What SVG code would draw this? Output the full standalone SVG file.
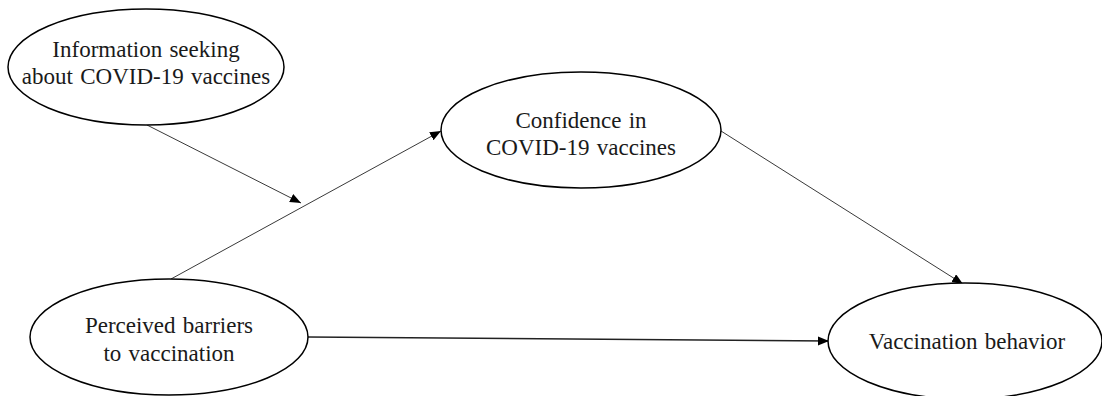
<svg xmlns="http://www.w3.org/2000/svg" width="1102" height="396" viewBox="0 0 1102 396">
<style>
.node{fill:#fff;stroke:#000;stroke-width:1.5}
.lbl{font-family:"Liberation Serif","Times New Roman",serif;font-size:23px;fill:#1a1a1a;text-anchor:middle;word-spacing:1.5px}
.edge{stroke:#222;stroke-width:0.9;fill:none}
</style>
<defs>
<marker id="arr" markerUnits="userSpaceOnUse" markerWidth="12" markerHeight="10" refX="11" refY="4.5" orient="auto">
<path d="M0,0 L11,4.5 L0,9 z" fill="#000"/>
</marker>
</defs>
<g id="connectors">
<line class="edge" x1="147" y1="125" x2="301" y2="203" marker-end="url(#arr)"/>
<line class="edge" x1="171" y1="279" x2="441" y2="131" marker-end="url(#arr)"/>
<line class="edge" x1="721" y1="131" x2="963" y2="284" marker-end="url(#arr)"/>
<line class="edge" style="stroke-width:1.4" x1="308" y1="337" x2="829" y2="341" marker-end="url(#arr)"/>
</g>
<g id="info">
<ellipse class="node" cx="146" cy="67" rx="138" ry="58"/>
<text class="lbl" x="146" y="57">Information seeking</text>
<text class="lbl" x="146" y="84">about COVID-19 vaccines</text>
</g>
<g id="confidence">
<ellipse class="node" cx="581" cy="130" rx="140" ry="58"/>
<text class="lbl" x="581" y="128">Confidence in</text>
<text class="lbl" x="581" y="155">COVID-19 vaccines</text>
</g>
<g id="barriers">
<ellipse class="node" cx="169" cy="337" rx="139" ry="58"/>
<text class="lbl" x="169" y="333">Perceived barriers</text>
<text class="lbl" x="169" y="361">to vaccination</text>
</g>
<g id="behavior">
<ellipse class="node" cx="965" cy="341" rx="137" ry="58"/>
<text class="lbl" x="967" y="349">Vaccination behavior</text>
</g>
</svg>
